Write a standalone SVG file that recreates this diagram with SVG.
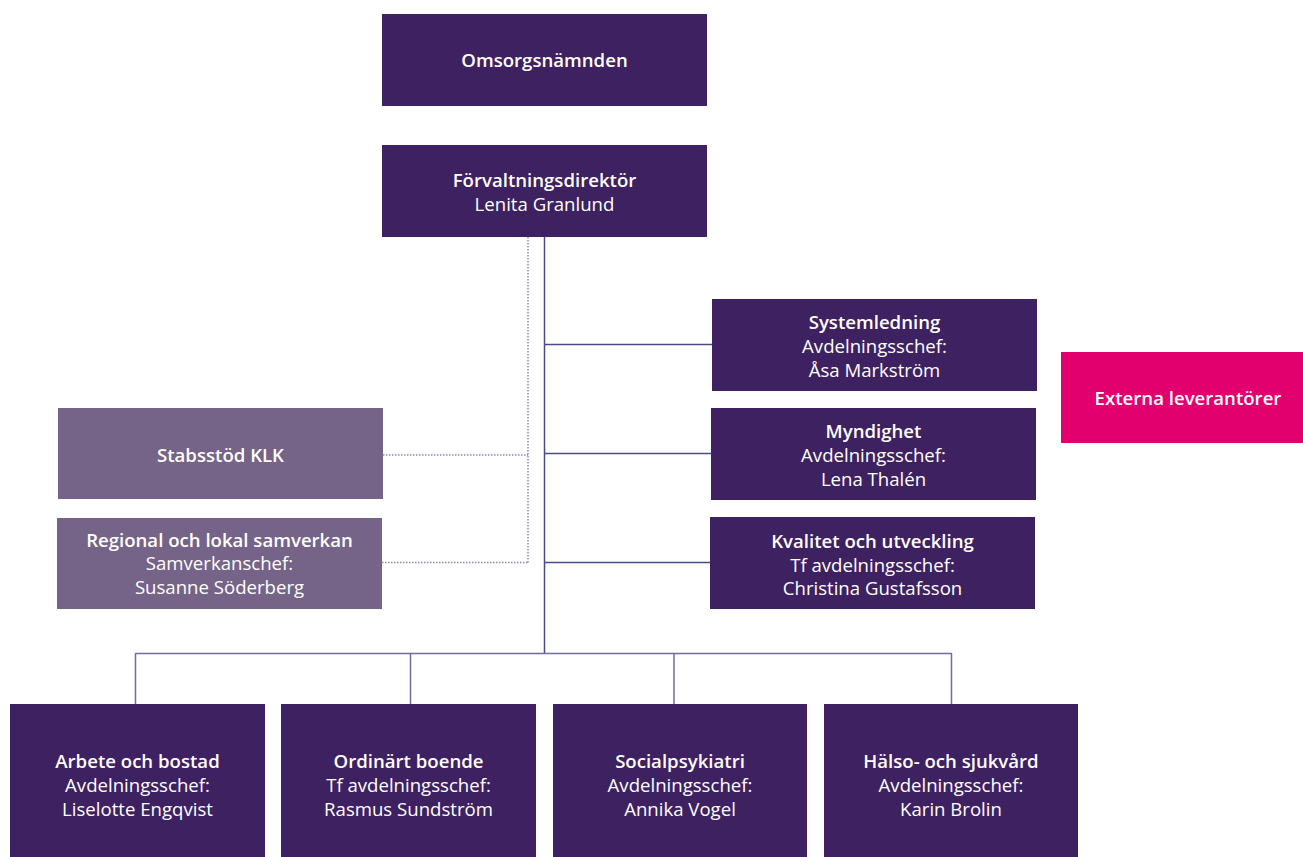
<svg xmlns="http://www.w3.org/2000/svg" width="1303" height="857" viewBox="0 0 1303 857">
<style>
.box{fill:#3e2160}
.stab{fill:#766388}
.ext{fill:#e2006f}
text{font-family:"Open Sans","Noto Sans",sans-serif;font-size:18.6px;fill:#ffffff;text-anchor:middle}
.b{font-weight:600}
.ln{stroke:#4b4a85;stroke-width:1.5;fill:none}
.lb{stroke:#6f6d9c;stroke-width:1.5;fill:none}
.dot{stroke:#8f8aad;stroke-width:1.5;fill:none;stroke-dasharray:1.5 1.5}
</style>
<rect width="1303" height="857" fill="#ffffff"/>
<g id="connectors">
<path class="dot" d="M528 237 V562.5 M383 455 H528 M382 562.5 H528"/>
<path class="ln" d="M544.5 237 V653.5 M544.5 344.5 H712 M544.5 453.5 H711 M544.5 562.5 H710"/>
<path class="lb" d="M135.5 653.5 H951.5 M135.5 653 V704 M410.5 653 V704 M674 653 V704 M951.5 653 V704"/>
</g>
<g id="omsorgsnamnden"><rect class="box" x="382" y="14" width="325" height="92"/><text class="b" x="544.5" y="67">Omsorgsnämnden</text></g>
<g id="forvaltningsdirektor"><rect class="box" x="382" y="145" width="325" height="92"/><text class="b" x="544.5" y="187">Förvaltningsdirektör</text><text x="544.5" y="211">Lenita Granlund</text></g>
<g id="systemledning"><rect class="box" x="712" y="299" width="325" height="92"/><text class="b" x="874.5" y="329">Systemledning</text><text x="874.5" y="353">Avdelningsschef:</text><text x="874.5" y="377">Åsa Markström</text></g>
<g id="myndighet"><rect class="box" x="711" y="408" width="325" height="92"/><text class="b" x="873.5" y="438">Myndighet</text><text x="873.5" y="462">Avdelningsschef:</text><text x="873.5" y="486">Lena Thalén</text></g>
<g id="kvalitet"><rect class="box" x="710" y="517" width="325" height="92"/><text class="b" x="872.5" y="548">Kvalitet och utveckling</text><text x="872.5" y="572">Tf avdelningsschef:</text><text x="872.5" y="595">Christina Gustafsson</text></g>
<g id="externa"><rect class="ext" x="1061" y="352" width="242" height="91"/><text class="b" x="1188" y="405">Externa leverantörer</text></g>
<g id="stabsstod"><rect class="stab" x="58" y="408" width="325" height="91"/><text class="b" x="220.5" y="462">Stabsstöd KLK</text></g>
<g id="regional"><rect class="stab" x="57" y="518" width="325" height="91"/><text class="b" x="219.5" y="547">Regional och lokal samverkan</text><text x="219.5" y="570">Samverkanschef:</text><text x="219.5" y="594">Susanne Söderberg</text></g>
<g id="arbete"><rect class="box" x="10" y="704" width="255" height="153"/><text class="b" x="137.5" y="768">Arbete och bostad</text><text x="137.5" y="792">Avdelningsschef:</text><text x="137.5" y="816">Liselotte Engqvist</text></g>
<g id="ordinart"><rect class="box" x="281" y="704" width="255" height="153"/><text class="b" x="408.5" y="768">Ordinärt boende</text><text x="408.5" y="792">Tf avdelningsschef:</text><text x="408.5" y="816">Rasmus Sundström</text></g>
<g id="socialpsykiatri"><rect class="box" x="553" y="704" width="254" height="153"/><text class="b" x="680" y="768">Socialpsykiatri</text><text x="680" y="792">Avdelningsschef:</text><text x="680" y="816">Annika Vogel</text></g>
<g id="halso"><rect class="box" x="824" y="704" width="254" height="153"/><text class="b" x="951" y="768">Hälso- och sjukvård</text><text x="951" y="792">Avdelningsschef:</text><text x="951" y="816">Karin Brolin</text></g>
</svg>
